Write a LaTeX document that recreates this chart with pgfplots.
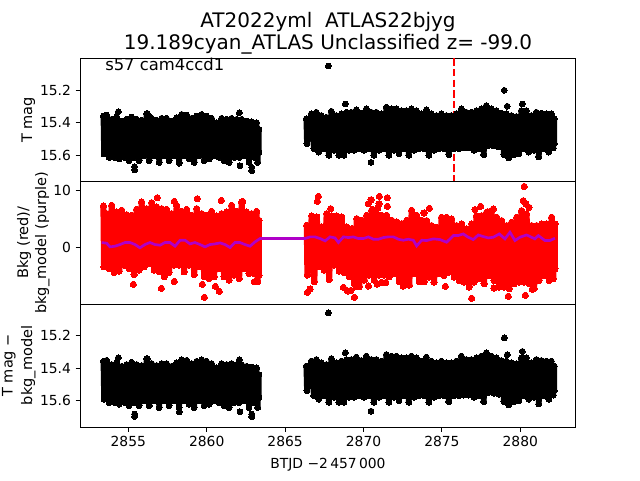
\documentclass[border=0pt]{standalone}
\usepackage{pgfplots}
\pgfplotsset{compat=1.18}
\usepackage{pgfplotstable}
\usepackage{fontspec}
\setmainfont{DejaVu Sans}
\definecolor{mpurple}{RGB}{175,0,200}
\pgfplotstableread[row sep=\\]{x y\\
2853.41 15.358\\2853.45 15.592\\2853.62 15.352\\2853.78 15.613\\2853.94 15.378\\2854.10 15.613\\2854.26 15.364\\2854.42 15.623\\2854.58 15.389\\2854.74 15.613\\
2854.89 15.378\\2855.05 15.633\\2855.21 15.364\\2855.37 15.613\\2855.53 15.378\\2855.69 15.633\\2855.85 15.384\\2856.01 15.603\\2856.17 15.343\\2856.33 15.633\\
2856.49 15.372\\2856.65 15.603\\2856.81 15.384\\2856.97 15.644\\2857.13 15.372\\2857.29 15.603\\2857.44 15.372\\2857.60 15.633\\2857.76 15.389\\2857.92 15.603\\
2858.08 15.368\\2858.24 15.644\\2858.40 15.348\\2858.56 15.603\\2858.72 15.352\\2858.88 15.623\\2859.04 15.372\\2859.20 15.644\\2859.36 15.358\\2859.52 15.603\\
2859.68 15.348\\2859.84 15.633\\2859.99 15.358\\2860.15 15.623\\2860.31 15.372\\2860.47 15.603\\2860.63 15.399\\2860.79 15.613\\2860.95 15.372\\2861.11 15.633\\
2861.27 15.378\\2861.43 15.644\\2861.59 15.372\\2861.75 15.613\\2861.91 15.378\\2862.07 15.613\\2862.23 15.378\\2862.39 15.603\\2862.54 15.389\\2862.70 15.644\\
2862.86 15.393\\2863.02 15.613\\2863.18 15.399\\2863.25 15.644\\2863.33 15.440\\2863.33 15.582\\
}\blackleft
\pgfplotstableread[row sep=\\]{x y\\
2866.35 15.376\\2866.39 15.528\\2866.67 15.345\\2866.83 15.559\\2866.99 15.335\\2867.15 15.580\\2867.31 15.355\\2867.47 15.559\\2867.63 15.366\\2867.79 15.600\\
2867.95 15.329\\2868.11 15.569\\2868.27 15.355\\2868.43 15.600\\2868.59 15.345\\2868.75 15.600\\2868.91 15.335\\2869.07 15.569\\2869.22 15.335\\2869.38 15.569\\
2869.54 15.320\\2869.70 15.559\\2869.86 15.341\\2870.02 15.569\\2870.18 15.314\\2870.34 15.559\\2870.50 15.335\\2870.66 15.600\\2870.82 15.335\\2870.98 15.569\\
2871.14 15.345\\2871.30 15.559\\2871.46 15.304\\2871.62 15.600\\2871.78 15.314\\2871.94 15.569\\2872.10 15.314\\2872.26 15.590\\2872.42 15.325\\2872.58 15.559\\
2872.73 15.325\\2872.89 15.600\\2873.05 15.314\\2873.21 15.569\\2873.37 15.325\\2873.53 15.559\\2873.69 15.345\\2873.85 15.559\\2874.01 15.320\\2874.17 15.600\\
2874.33 15.345\\2874.49 15.569\\2874.65 15.355\\2874.81 15.559\\2874.96 15.345\\2875.12 15.559\\2875.28 15.355\\2875.44 15.596\\2875.60 15.355\\2875.76 15.559\\
2875.92 15.345\\2876.08 15.559\\2876.24 15.314\\2876.40 15.555\\2876.56 15.335\\2876.72 15.555\\2876.88 15.335\\2877.04 15.569\\2877.20 15.325\\2877.36 15.559\\
2877.51 15.314\\2877.67 15.596\\2877.83 15.294\\2877.99 15.539\\2878.15 15.314\\2878.31 15.543\\2878.47 15.325\\2878.63 15.549\\2878.79 15.341\\2878.95 15.596\\
2879.11 15.345\\2879.27 15.616\\2879.43 15.355\\2879.59 15.596\\2879.75 15.361\\2879.91 15.590\\2880.07 15.325\\2880.23 15.559\\2880.38 15.325\\2880.54 15.580\\
2880.70 15.355\\2880.86 15.569\\2881.02 15.335\\2881.18 15.610\\2881.34 15.341\\2881.50 15.559\\2881.66 15.345\\2881.82 15.580\\2881.98 15.345\\2882.10 15.555\\
2882.17 15.376\\2882.17 15.528\\
}\blackright
\pgfplotstableread[row sep=\\]{x y\\
2866.35 15.388\\2866.39 15.540\\2866.67 15.357\\2866.83 15.571\\2866.99 15.347\\2867.15 15.592\\2867.31 15.367\\2867.47 15.571\\2867.63 15.378\\2867.79 15.612\\
2867.95 15.341\\2868.11 15.581\\2868.27 15.367\\2868.43 15.612\\2868.59 15.357\\2868.75 15.612\\2868.91 15.347\\2869.07 15.581\\2869.22 15.347\\2869.38 15.581\\
2869.54 15.332\\2869.70 15.571\\2869.86 15.353\\2870.02 15.581\\2870.18 15.326\\2870.34 15.571\\2870.50 15.347\\2870.66 15.612\\2870.82 15.347\\2870.98 15.581\\
2871.14 15.357\\2871.30 15.571\\2871.46 15.316\\2871.62 15.612\\2871.78 15.326\\2871.94 15.581\\2872.10 15.326\\2872.26 15.602\\2872.42 15.337\\2872.58 15.571\\
2872.73 15.337\\2872.89 15.612\\2873.05 15.326\\2873.21 15.581\\2873.37 15.337\\2873.53 15.571\\2873.69 15.357\\2873.85 15.571\\2874.01 15.332\\2874.17 15.612\\
2874.33 15.357\\2874.49 15.581\\2874.65 15.367\\2874.81 15.571\\2874.96 15.357\\2875.12 15.571\\2875.28 15.367\\2875.44 15.608\\2875.60 15.367\\2875.76 15.571\\
2875.92 15.357\\2876.08 15.571\\2876.24 15.326\\2876.40 15.567\\2876.56 15.347\\2876.72 15.567\\2876.88 15.347\\2877.04 15.581\\2877.20 15.337\\2877.36 15.571\\
2877.51 15.326\\2877.67 15.608\\2877.83 15.306\\2877.99 15.551\\2878.15 15.326\\2878.31 15.555\\2878.47 15.337\\2878.63 15.561\\2878.79 15.353\\2878.95 15.608\\
2879.11 15.357\\2879.27 15.628\\2879.43 15.367\\2879.59 15.608\\2879.75 15.373\\2879.91 15.602\\2880.07 15.337\\2880.23 15.571\\2880.38 15.337\\2880.54 15.592\\
2880.70 15.367\\2880.86 15.581\\2881.02 15.347\\2881.18 15.622\\2881.34 15.353\\2881.50 15.571\\2881.66 15.357\\2881.82 15.592\\2881.98 15.357\\2882.10 15.567\\
2882.17 15.388\\2882.17 15.540\\
}\blackrightlow
\pgfplotstableread[row sep=\\]{x y\\
2853.41 7.26\\2853.45 -3.38\\2853.62 5.93\\2853.78 -3.67\\2853.94 7.38\\2854.10 -4.37\\2854.26 6.22\\2854.42 -4.14\\2854.58 6.51\\2854.74 -3.09\\
2854.89 5.75\\2855.05 -3.67\\2855.21 5.63\\2855.37 -4.72\\2855.53 6.68\\2855.69 -3.96\\2855.85 7.96\\2856.01 -3.38\\2856.17 6.80\\2856.33 -2.80\\
2856.49 7.85\\2856.65 -3.96\\2856.81 7.09\\2856.97 -4.25\\2857.13 6.80\\2857.29 -5.13\\2857.44 6.68\\2857.60 -4.37\\2857.76 5.93\\2857.92 -3.09\\
2858.08 7.38\\2858.24 -3.09\\2858.40 6.33\\2858.56 -4.25\\2858.72 6.68\\2858.88 -3.09\\2859.04 5.63\\2859.20 -4.72\\2859.36 6.80\\2859.52 -3.38\\
2859.68 5.93\\2859.84 -5.13\\2859.99 5.63\\2860.15 -5.42\\2860.31 6.33\\2860.47 -5.13\\2860.63 5.52\\2860.79 -3.67\\2860.95 5.93\\2861.11 -5.13\\
2861.27 6.22\\2861.43 -5.71\\2861.59 7.38\\2861.75 -4.84\\2861.91 6.33\\2862.07 -5.42\\2862.23 7.96\\2862.39 -3.67\\2862.54 6.22\\2862.70 -4.55\\
2862.86 5.93\\2863.02 -4.55\\2863.18 6.33\\2863.25 -5.97\\2863.33 4.76\\2863.33 -4.84\\
}\redleft
\pgfplotstableread[row sep=\\]{x y\\
2866.38 3.89\\2866.42 -4.84\\2866.70 5.52\\2866.86 -6.00\\2867.02 5.34\\2867.18 -3.38\\2867.33 3.60\\2867.49 -3.96\\2867.65 5.93\\2867.81 -5.59\\
2867.97 5.52\\2868.13 -3.09\\2868.29 5.52\\2868.45 -4.14\\2868.61 5.34\\2868.77 -4.37\\2868.93 3.60\\2869.09 -5.13\\2869.25 3.31\\2869.41 -6.29\\
2869.57 5.05\\2869.73 -6.87\\2869.89 4.76\\2870.05 -5.71\\2870.20 5.63\\2870.36 -4.84\\2870.52 6.51\\2870.68 -5.71\\2870.84 5.93\\2871.00 -4.84\\
2871.16 5.63\\2871.32 -4.84\\2871.48 5.63\\2871.64 -5.13\\2871.80 4.76\\2871.96 -4.55\\2872.12 4.47\\2872.28 -6.00\\2872.44 4.18\\2872.60 -6.00\\
2872.76 4.76\\2872.92 -6.58\\2873.07 6.51\\2873.23 -4.55\\2873.39 5.63\\2873.55 -6.00\\2873.71 4.76\\2873.87 -6.00\\
2874.03 4.71\\2874.19 -5.18\\2874.34 3.84\\2874.50 -6.05\\2874.66 3.55\\2874.82 -4.60\\2874.98 5.29\\2875.14 -4.89\\2875.30 5.29\\2875.46 -4.31\\
2875.62 5.00\\2875.78 -5.18\\2875.94 3.84\\2876.10 -5.76\\2876.26 4.13\\2876.42 -6.05\\2876.58 3.26\\2876.74 -6.92\\2876.90 4.13\\2877.06 -6.05\\
2877.21 5.58\\2877.37 -5.47\\2877.53 5.58\\2877.69 -6.34\\2877.85 6.16\\2878.01 -4.89\\2878.17 6.46\\2878.33 -5.76\\2878.49 5.29\\2878.65 -6.92\\
2878.81 4.71\\2878.97 -6.92\\2879.13 3.84\\2879.29 -7.21\\2879.45 4.42\\2879.61 -6.34\\2879.77 5.29\\2879.93 -6.05\\2880.08 6.46\\2880.24 -6.05\\
2880.40 5.87\\2880.56 -6.34\\2880.72 3.84\\2880.88 -7.21\\2881.04 3.84\\2881.20 -5.76\\2881.36 4.13\\2881.52 -4.89\\2881.68 4.13\\2881.84 -5.76\\
2882.00 5.29\\2882.10 -5.47\\2882.21 4.13\\2882.21 -3.72\\
}\redright
\pgfplotstableread[row sep=\\]{x y\\
2856.85 8.72\\2857.93 8.08\\2859.40 8.54\\2860.93 8.25\\2862.29 8.08\\
2855.32 -6.46\\2857.11 -7.16\\2857.93 -5.94\\2859.72 -6.46\\2859.85 -8.73\\2860.55 -6.81\\2860.80 -7.69\\2863.04 -6.00\\
2867.12 8.95\\2867.06 8.08\\2867.91 6.80\\2870.31 7.67\\2870.48 8.37\\2871.01 8.95\\2871.52 8.72\\2870.99 7.67\\2871.52 7.21\\2870.57 6.68\\2870.91 6.91\\
2866.42 -7.86\\2866.59 -7.28\\2868.72 -6.99\\2868.99 -7.63\\2869.20 -7.51\\2869.42 -8.73\\2869.57 -6.87\\2870.31 -6.76\\2870.88 -6.41\\2871.16 -6.12\\2871.42 -6.12\\2872.54 -6.76\\
2874.20 6.86\\2873.86 6.05\\2877.11 6.63\\2877.47 7.21\\2878.28 6.75\\2877.92 6.28\\2880.25 10.70\\2880.19 8.20\\2880.36 7.62\\2880.55 7.04\\
2875.22 -6.81\\2876.90 -8.90\\2878.32 -7.10\\2879.23 -8.55\\2880.32 -8.38\\2880.76 -7.33\\
}\redout
\pgfplotstableread[row sep=\\]{x y\\
2853.30 0.87\\2853.62 0.75\\2853.83 0.11\\2854.15 0.23\\2854.47 0.52\\2854.79 0.87\\2855.11 0.87\\2855.43 0.52\\2855.74 -0.06\\2856.06 0.52\\2856.38 0.87\\2856.70 0.52\\2857.02 0.40\\2857.34 0.87\\2857.66 0.87\\2857.98 0.23\\2858.30 1.27\\2858.62 1.27\\2858.93 0.63\\2859.25 0.87\\2859.57 0.52\\2859.89 0.11\\2860.21 0.52\\2860.53 0.63\\2860.85 0.81\\2861.17 0.52\\2861.49 -0.01\\2861.80 0.87\\2862.12 0.87\\2862.44 0.52\\2862.76 0.23\\2863.08 0.98\\2863.40 1.57\\
2866.27 1.57\\2866.59 1.86\\2866.91 1.86\\2867.23 1.57\\2867.55 1.16\\2867.87 1.86\\2868.18 1.68\\2868.40 0.87\\2868.72 1.86\\2869.04 1.74\\2869.35 1.86\\2869.67 1.57\\2869.99 1.57\\2870.31 1.86\\2870.63 1.45\\2870.95 1.45\\2871.27 1.74\\2871.59 1.86\\2871.91 1.86\\2872.22 1.45\\2872.54 1.27\\2872.86 1.45\\2873.18 1.27\\2873.39 0.28\\2873.71 1.27\\
2874.03 1.22\\2874.45 1.51\\2874.88 1.39\\2875.30 0.92\\2875.73 2.09\\2876.04 2.09\\2876.36 2.38\\2876.68 1.80\\2877.00 1.39\\2877.32 2.20\\2877.64 1.91\\2877.96 1.68\\2878.28 1.80\\2878.66 2.38\\2879.02 1.51\\2879.34 2.67\\2879.66 1.22\\2879.98 1.80\\2880.40 2.20\\2880.93 1.51\\2881.15 2.09\\2881.57 1.22\\2881.89 1.22\\2882.21 1.62\\
}\purpleline
\pgfplotsset{
  every axis/.append style={
    scale only axis, width=371.6pt, height=91.9pt,
    xmin=2851.95, xmax=2883.55,
    axis line style={line width=0.75pt},
    tick style={black, line width=0.75pt},
    major tick length=3.65pt,
    tick align=outside,
    xtick pos=bottom, ytick pos=left,
    tick label style={font=\fontsize{10.4}{12}\selectfont},
    /pgf/number format/assume math mode=true,
    /pgf/number format/1000 sep={},
    clip=true,
  },
  band/.style={mark=*, mark size=2.2pt, mark options={line width=0pt, solid}, line join=round, line cap=round, line width=4.2pt},
  dots/.style={only marks, mark=*, mark size=2.2pt, mark options={line width=0pt}},
}
\begin{document}
\begin{tikzpicture}[x=1pt,y=1pt]
\useasboundingbox (0,0) rectangle (480,360);
\begin{axis}[at={(60.375pt,224.25pt)}, anchor=south west, y dir=reverse,
  ymin=15.004, ymax=15.758, xtick=\empty, ytick={15.2,15.4,15.6},
  yticklabel style={/pgf/number format/fixed,/pgf/number format/fixed zerofill,/pgf/number format/precision=1}]
\addplot[red, line width=1.56pt, dash pattern=on 5.55pt off 2.4pt] coordinates {(2875.77,15.004)(2875.77,15.758)};
\addplot[black, band] table {\blackleft};
\addplot[black, band] table {\blackright};
\addplot[black, dots] coordinates {(2854.36,15.332)(2856.21,15.342)(2856.33,15.362)(2862.08,15.338)(2855.40,15.690)(2855.40,15.670)(2858.25,15.649)(2862.12,15.664)(2862.87,15.694)(2862.87,15.674)(2867.76,15.050)(2868.84,15.284)(2870.48,15.643)(2878.98,15.200)(2879.17,15.298)(2880.13,15.284)};
\end{axis}
\begin{axis}[at={(60.375pt,132pt)}, anchor=south west,
  ymin=-9.9, ymax=11.57, xtick=\empty, ytick={0,10}]
\addplot[red, band, line width=4.5pt, mark size=2.35pt] table {\redleft};
\addplot[red, band, line width=4.5pt, mark size=2.35pt] table {\redright};
\addplot[red, dots, mark size=2.35pt] table {\redout};
\addplot[mpurple, no marks, line width=2pt] table {\purpleline};
\end{axis}
\begin{axis}[at={(60.375pt,39.75pt)}, anchor=south west, y dir=reverse,
  ymin=15.007, ymax=15.764, xtick={2855,2860,2865,2870,2875,2880}, ytick={15.2,15.4,15.6},
  yticklabel style={/pgf/number format/fixed,/pgf/number format/fixed zerofill,/pgf/number format/precision=1}]
\addplot[black, band] table {\blackleft};
\addplot[black, band] table {\blackrightlow};
\addplot[black, dots] coordinates {(2854.36,15.336)(2856.21,15.342)(2856.33,15.370)(2862.08,15.348)(2855.40,15.700)(2855.40,15.684)(2858.25,15.670)(2862.12,15.670)(2862.87,15.700)(2862.87,15.684)(2867.76,15.059)(2868.84,15.305)(2870.48,15.666)(2878.98,15.213)(2879.17,15.317)(2880.13,15.297)};
\end{axis}
\node[anchor=base, inner sep=0pt, font=\fontsize{15}{18}\selectfont] at (246,339.75) {AT2022yml\ \ ATLAS22bjyg};
\node[anchor=base, inner sep=0pt, font=\fontsize{15}{18}\selectfont] at (246,323.25) {19.189cyan\_ATLAS Unclassified z= -99.0};
\node[anchor=base west, inner sep=0pt, font=\fontsize{12.3}{15}\selectfont] at (78.75,307.5) {s57 cam4ccd1};
\node[anchor=base, inner sep=0pt, font=\fontsize{10.4}{12}\selectfont] at (246,9) {BTJD −2\,457\,000};
\node[rotate=90, anchor=base, inner sep=0pt, font=\fontsize{10.9}{12}\selectfont] at (24,270) {T mag};
\node[rotate=90, anchor=base, inner sep=0pt, font=\fontsize{10.9}{12}\selectfont] at (21,178) {Bkg (red)/};
\node[rotate=90, anchor=base, inner sep=0pt, font=\fontsize{10.9}{12}\selectfont] at (34.5,178) {bkg\_model (purple)};
\node[rotate=90, anchor=base, inner sep=0pt, font=\fontsize{10.9}{12}\selectfont] at (9.5,86) {T mag −};
\node[rotate=90, anchor=base, inner sep=0pt, font=\fontsize{10.9}{12}\selectfont] at (24,86) {bkg\_model};
\end{tikzpicture}
\end{document}
